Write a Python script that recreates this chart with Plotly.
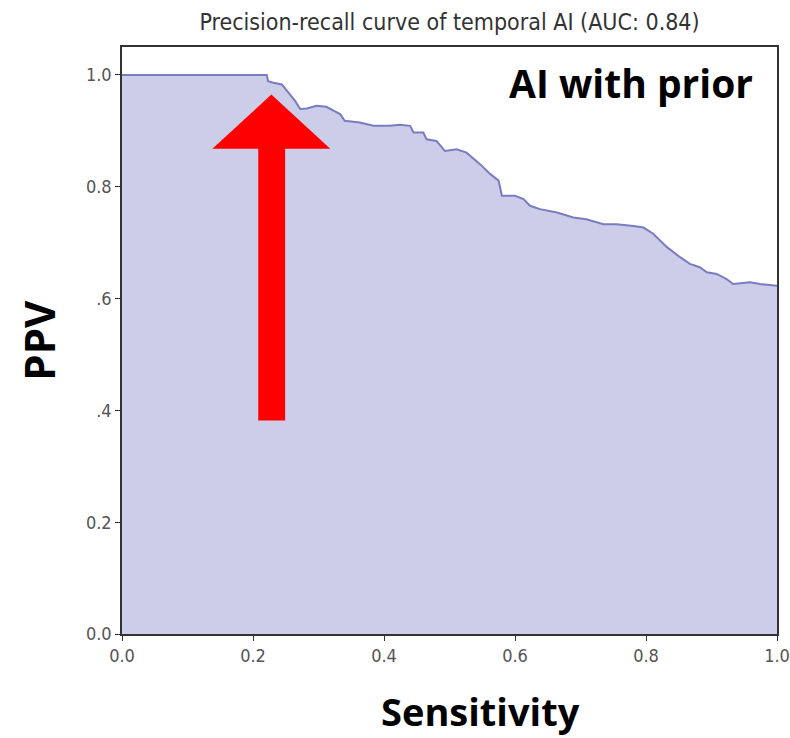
import plotly.graph_objects as go

recall = [0.0, 0.221, 0.223, 0.231, 0.244, 0.249, 0.256, 0.264, 0.272, 0.282, 0.297, 0.312,
          0.323, 0.333, 0.340, 0.363, 0.384, 0.409, 0.424, 0.440, 0.445, 0.460, 0.465, 0.480,
          0.493, 0.511, 0.526, 0.547, 0.562, 0.575, 0.580, 0.600, 0.613, 0.623, 0.638, 0.664,
          0.689, 0.709, 0.735, 0.755, 0.781, 0.796, 0.811, 0.832, 0.852, 0.867, 0.882, 0.893,
          0.908, 0.923, 0.933, 0.959, 0.974, 1.0]
precision = [1.0, 1.0, 0.989, 0.986, 0.983, 0.976, 0.965, 0.954, 0.939, 0.940, 0.945, 0.943,
             0.936, 0.930, 0.918, 0.915, 0.909, 0.909, 0.911, 0.909, 0.897, 0.897, 0.885, 0.882,
             0.864, 0.867, 0.861, 0.840, 0.823, 0.811, 0.784, 0.784, 0.778, 0.766, 0.760, 0.754,
             0.745, 0.742, 0.733, 0.733, 0.730, 0.727, 0.716, 0.692, 0.674, 0.662, 0.656, 0.647,
             0.644, 0.635, 0.626, 0.629, 0.626, 0.623]

x_ticks = [0.0, 0.2, 0.4, 0.6, 0.8, 1.0]
x_tick_labels = ["0.0", "0.2", "0.4", "0.6", "0.8", "1.0"]
y_ticks = [0.0, 0.2, 0.4, 0.6, 0.8, 1.0]
y_tick_labels = ["0.0", "0.2", ".4", ".6", "0.8", "1.0"]

title_text = "Precision-recall curve of temporal AI (AUC: 0.84)"
x_title = "Sensitivity"
y_title = "PPV"
label_text = "AI with prior"

# arrow geometry in data units
arrow_shaft = dict(x0=0.208, x1=0.249, y0=0.382, y1=0.875)
arrow_head = dict(xl=0.138, xr=0.318, yb=0.868, xt=0.228, yt=0.965)

fig = go.Figure()
fig.add_trace(go.Scatter(
    x=recall, y=precision, mode="lines", fill="tozeroy",
    fillcolor="rgb(204,205,233)",
    line=dict(color="rgb(122,124,192)", width=2),
    hoverinfo="skip", showlegend=False,
))

fig.add_shape(type="rect", xref="x", yref="y",
              x0=arrow_shaft["x0"], x1=arrow_shaft["x1"],
              y0=arrow_shaft["y0"], y1=arrow_shaft["y1"],
              fillcolor="#ff0000", line=dict(width=0))
fig.add_shape(type="path", xref="x", yref="y",
              path=f"M {arrow_head['xl']},{arrow_head['yb']} L {arrow_head['xr']},{arrow_head['yb']} "
                   f"L {arrow_head['xt']},{arrow_head['yt']} Z",
              fillcolor="#ff0000", line=dict(width=0))

tick_font = dict(family="DejaVu Sans Condensed, DejaVu Sans", size=18, color="#555555")

fig.update_layout(
    width=790, height=738,
    margin=dict(l=122, r=13, t=47, b=104),
    paper_bgcolor="white", plot_bgcolor="white",
    title=dict(text=title_text, xref="paper", x=0.5, xanchor="center", y=0.970, yanchor="middle",
               font=dict(family="DejaVu Sans Condensed, DejaVu Sans", size=23, color="#333333")),
    xaxis=dict(range=[0, 1], tickvals=x_ticks, ticktext=x_tick_labels, showgrid=False,
               zeroline=False, showline=True, linecolor="#333333", linewidth=1.5, mirror=True,
               ticks="outside", ticklen=5, tickcolor="#333333", tickfont=tick_font,
               automargin=False),
    yaxis=dict(range=[0, 1.05], tickvals=y_ticks, ticktext=y_tick_labels, showgrid=False,
               zeroline=False, showline=True, linecolor="#333333", linewidth=1.5, mirror=True,
               ticks="outside", ticklen=5, tickcolor="#333333", tickfont=tick_font,
               automargin=False),
    annotations=[
        dict(text=f"<b>{label_text}</b>", xref="paper", yref="paper", x=0.966, y=0.940,
             xanchor="right", yanchor="middle", showarrow=False,
             font=dict(family="Open Sans", size=39, color="black")),
        dict(text=f"<b>{x_title}</b>", xref="paper", yref="paper", x=0.548, y=-0.132,
             xanchor="center", yanchor="middle", showarrow=False,
             font=dict(family="Open Sans", size=38, color="black")),
        dict(text=f"<b>{y_title}</b>", xref="paper", yref="paper", x=-0.127, y=0.501,
             xanchor="center", yanchor="middle", showarrow=False, textangle=-90,
             font=dict(family="Open Sans", size=42, color="black")),
    ],
)

fig.write_html("out.html", config={"displayModeBar": False},
               post_script="document.body.style.margin='0';document.body.style.overflow='hidden';")
